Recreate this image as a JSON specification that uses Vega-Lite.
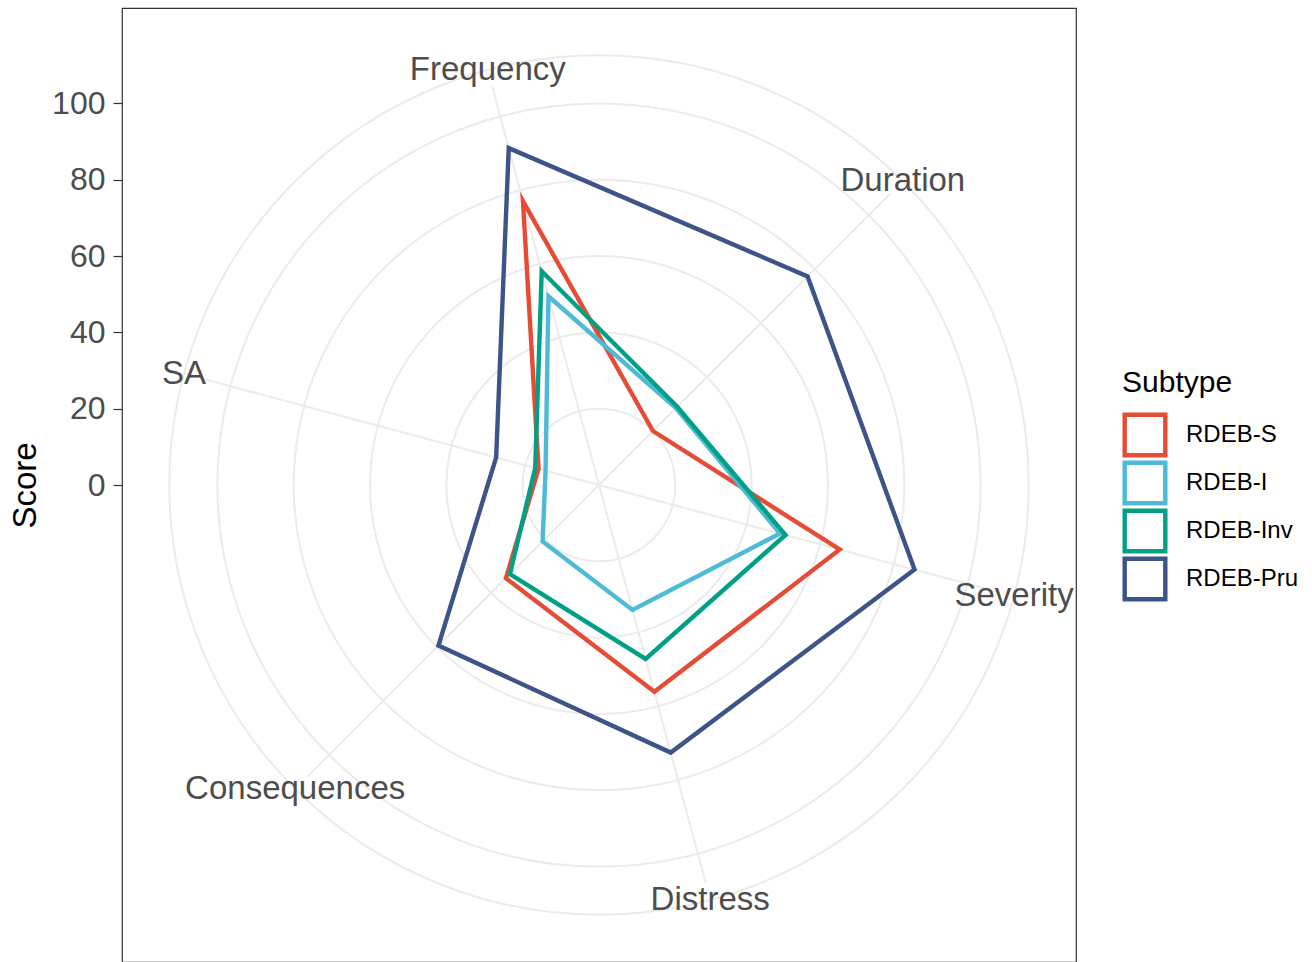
{
  "$schema": "https://vega.github.io/schema/vega-lite/v6.json",
  "width": 954,
  "height": 954,
  "autosize": {"type": "none"},
  "padding": {"left": 122, "top": 8, "right": 236, "bottom": 0},
  "background": "white",
  "config": {
    "font": "Liberation Sans",
    "view": {"stroke": "#333333", "strokeWidth": 1.2}
  },
  "datasets": {
    "cats": [
      {"category": "Frequency", "idx": 0},
      {"category": "Duration", "idx": 1},
      {"category": "Severity", "idx": 2},
      {"category": "Distress", "idx": 3},
      {"category": "Consequences", "idx": 4},
      {"category": "SA", "idx": 5}
    ],
    "rings": [{"r": 20}, {"r": 40}, {"r": 60}, {"r": 80}, {"r": 100}, {"r": 112.6}],
    "scores": [
      {"Subtype": "RDEB-S", "category": "Frequency", "score": 77.0},
      {"Subtype": "RDEB-S", "category": "Duration", "score": 20.0},
      {"Subtype": "RDEB-S", "category": "Severity", "score": 65.3},
      {"Subtype": "RDEB-S", "category": "Distress", "score": 56.1},
      {"Subtype": "RDEB-S", "category": "Consequences", "score": 34.5},
      {"Subtype": "RDEB-S", "category": "SA", "score": 16.4},
      {"Subtype": "RDEB-I", "category": "Frequency", "score": 51.2},
      {"Subtype": "RDEB-I", "category": "Duration", "score": 28.5},
      {"Subtype": "RDEB-I", "category": "Severity", "score": 49.1},
      {"Subtype": "RDEB-I", "category": "Distress", "score": 33.9},
      {"Subtype": "RDEB-I", "category": "Consequences", "score": 20.9},
      {"Subtype": "RDEB-I", "category": "SA", "score": 14.5},
      {"Subtype": "RDEB-Inv", "category": "Frequency", "score": 58.0},
      {"Subtype": "RDEB-Inv", "category": "Duration", "score": 29.0},
      {"Subtype": "RDEB-Inv", "category": "Severity", "score": 50.6},
      {"Subtype": "RDEB-Inv", "category": "Distress", "score": 47.2},
      {"Subtype": "RDEB-Inv", "category": "Consequences", "score": 33.0},
      {"Subtype": "RDEB-Inv", "category": "SA", "score": 17.3},
      {"Subtype": "RDEB-Pru", "category": "Frequency", "score": 91.4},
      {"Subtype": "RDEB-Pru", "category": "Duration", "score": 77.3},
      {"Subtype": "RDEB-Pru", "category": "Severity", "score": 85.6},
      {"Subtype": "RDEB-Pru", "category": "Distress", "score": 72.6},
      {"Subtype": "RDEB-Pru", "category": "Consequences", "score": 59.5},
      {"Subtype": "RDEB-Pru", "category": "SA", "score": 27.9}
    ]
  },
  "layer": [
    {
      "data": {"name": "rings"},
      "transform": [{"calculate": "0", "as": "o"}],
      "mark": {"type": "point", "shape": "circle", "filled": false, "stroke": "#EBEBEB", "strokeWidth": 2, "opacity": 1},
      "encoding": {
        "x": {"field": "o", "type": "quantitative", "scale": {"domain": [-125, 125], "nice": false, "zero": false}, "axis": null},
        "y": {"field": "o", "type": "quantitative", "scale": {"domain": [-125, 125], "nice": false, "zero": false}, "title": "Score",
          "axis": {"values": [0, 20, 40, 60, 80, 100], "grid": false, "domain": false, "labelFontSize": 32, "labelColor": "#4D4D4D", "tickColor": "#333333", "tickSize": 9, "tickWidth": 1.2, "labelPadding": 8, "title": "Score", "titleFontSize": 33, "titleFontWeight": "normal", "titleColor": "black", "titleX": -97, "titleY": 477, "titleAngle": -90, "titleBaseline": "middle", "titleAlign": "center"}},
        "size": {"field": "r", "type": "quantitative", "scale": {"type": "pow", "exponent": 2, "domain": [0, 125], "range": [0, 910116], "zero": true}, "legend": null}
      }
    },
    {
      "data": {"name": "cats"},
      "transform": [
        {"calculate": "0", "as": "o"},
        {"calculate": "(-15 + 60 * datum.idx) * PI / 180", "as": "ang"},
        {"calculate": "108 * sin(datum.ang)", "as": "ex"},
        {"calculate": "108 * cos(datum.ang)", "as": "ey"}
      ],
      "mark": {"type": "rule", "stroke": "#EBEBEB", "strokeWidth": 2},
      "encoding": {
        "x": {"field": "o", "type": "quantitative", "axis": null},
        "y": {"field": "o", "type": "quantitative", "title": "Score"},
        "x2": {"field": "ex"},
        "y2": {"field": "ey"}
      }
    },
    {
      "data": {"name": "scores"},
      "transform": [
        {"lookup": "category", "from": {"data": {"name": "cats"}, "key": "category", "fields": ["idx"]}},
        {"calculate": "(-15 + 60 * datum.idx) * PI / 180", "as": "ang"},
        {"calculate": "datum.score * sin(datum.ang)", "as": "px"},
        {"calculate": "datum.score * cos(datum.ang)", "as": "py"}
      ],
      "mark": {"type": "line", "interpolate": "linear-closed", "strokeWidth": 4.4, "strokeJoin": "miter", "strokeMiterLimit": 10},
      "encoding": {
        "x": {"field": "px", "type": "quantitative", "axis": null},
        "y": {"field": "py", "type": "quantitative", "title": "Score"},
        "order": {"field": "idx", "type": "quantitative"},
        "color": {
          "field": "Subtype", "type": "nominal",
          "scale": {"domain": ["RDEB-S", "RDEB-I", "RDEB-Inv", "RDEB-Pru"], "range": ["#E64B35", "#4DBBD5", "#00A087", "#3C5488"]},
          "legend": {
            "orient": "none", "legendX": 1000, "legendY": 360,
            "title": "Subtype", "titleFontSize": 30, "titleFontWeight": "normal", "titleColor": "black", "titlePadding": 14,
            "labelFontSize": 24, "labelColor": "black", "labelOffset": 18,
            "symbolType": "square", "symbolSize": 1650, "symbolStrokeWidth": 4.4, "symbolFillColor": "white",
            "clipHeight": 46, "rowPadding": 2
          }
        }
      }
    },
    {
      "data": {"name": "cats"},
      "transform": [
        {"calculate": "(-15 + 60 * datum.idx) * PI / 180", "as": "ang"},
        {"calculate": "112.6 * sin(datum.ang)", "as": "tx"},
        {"calculate": "112.6 * cos(datum.ang)", "as": "ty"}
      ],
      "mark": {"type": "text", "fontSize": 33, "color": "#4D4D4D", "align": "center", "baseline": "middle"},
      "encoding": {
        "x": {"field": "tx", "type": "quantitative", "axis": null},
        "y": {"field": "ty", "type": "quantitative", "title": "Score"},
        "text": {"field": "category"}
      }
    }
  ]
}
